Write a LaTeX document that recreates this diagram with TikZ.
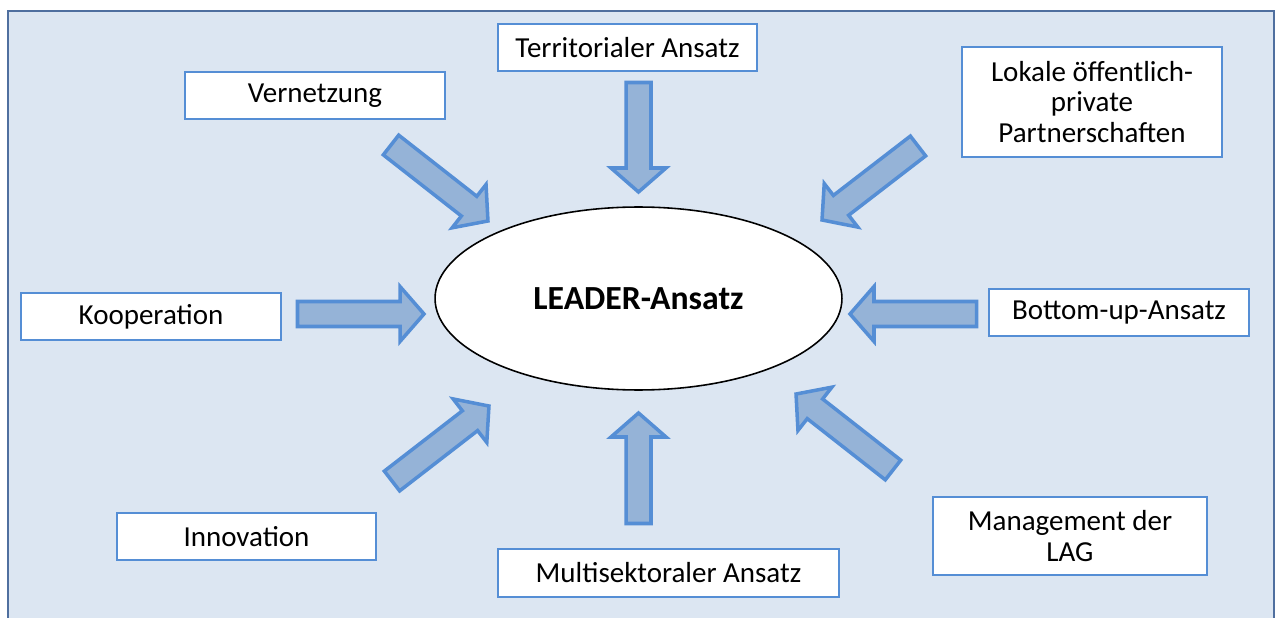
\documentclass[tikz,border=0pt]{standalone}
\usepackage{fontspec}
\setmainfont{Carlito}
\usetikzlibrary{calc}
\usetikzlibrary{shapes.geometric}

\definecolor{bgblue}{HTML}{DCE6F2}
\definecolor{bgline}{HTML}{4F6F9F}
\definecolor{boxline}{HTML}{558ED5}
\definecolor{arrfill}{HTML}{95B3D7}
\definecolor{arrline}{HTML}{558ED5}

\newcommand{\fatarrow}[2]{%
\draw[fatarrow] let \p1=($(#2)-(#1)$), \n1={atan2(\y1,\x1)}, \n2={veclen(\x1,\y1)} in
  [shift={(#1)},rotate=\n1]
  (0cm,0.25cm) -- ({\n2-0.48cm},0.25cm) -- ({\n2-0.48cm},0.55cm) -- ({\n2+0cm},0cm)
  -- ({\n2-0.48cm},-0.55cm) -- ({\n2-0.48cm},-0.25cm) -- (0cm,-0.25cm) -- cycle;}

\begin{document}
\begin{tikzpicture}[x=0.02cm,y=-0.02cm,
  box/.style={draw=boxline,fill=white,line width=0.8pt,minimum width=5.2cm,minimum height=0.94cm,inner sep=0pt,align=center,font=\fontsize{16.5}{17.4}\selectfont},
  fatarrow/.style={draw=arrline,fill=arrfill,line width=2pt,line join=miter}]
\useasboundingbox (0,0) rectangle (1275,618);
\clip (0,0) rectangle (1275,618);
\draw[draw=bgline,fill=bgblue,line width=0.8pt] (8,11) rectangle (1274,660);

\node[ellipse,draw,fill=white,line width=0.9pt,minimum width=8.14cm,minimum height=3.66cm,inner sep=0pt,font=\fontsize{19.2}{22}\selectfont\bfseries] (leader) at (638.5,298.5) {LEADER-Ansatz\hspace{0.3cm}};

\node[box,minimum width=5.18cm] (terr) at (627.5,47.5) {Territorialer Ansatz};
\node[box] (vern) at (315,95.5) {Vernetzung};
\node[box,minimum height=2.2cm] (lok) at (1092,102) {Lokale öffentlich-\\private\\Partnerschaften};
\node[box] (koop) at (151,316.5) {Kooperation};
\node[box] (bott) at (1119,312.5) {Bottom-up-Ansatz};
\node[box,minimum width=5.18cm] (inno) at (246.5,536.5) {Innovation};
\node[box,minimum width=6.82cm,minimum height=0.96cm] (multi) at (668.5,573) {Multisektoraler Ansatz};
\node[box,minimum width=5.48cm,minimum height=1.56cm] (mgmt) at (1070,536) {Management der\\LAG};

% arrows: tail and tip
\coordinate (terr-t) at (638.5,82.5);
\coordinate (terr-h) at (638.5,192);
\coordinate (vern-t) at (391,145);
\coordinate (vern-h) at (488,221);
\coordinate (lok-t) at (918,146);
\coordinate (lok-h) at (822,220);
\coordinate (koop-t) at (297.5,314);
\coordinate (koop-h) at (424,314);
\coordinate (bott-t) at (976.5,314);
\coordinate (bott-h) at (850,314);
\coordinate (inno-t) at (392,481);
\coordinate (inno-h) at (489,406);
\coordinate (multi-t) at (638.5,523.5);
\coordinate (multi-h) at (638.5,413);
\coordinate (mgmt-t) at (893,470);
\coordinate (mgmt-h) at (796,394);

\fatarrow{terr-t}{terr-h}
\fatarrow{vern-t}{vern-h}
\fatarrow{lok-t}{lok-h}
\fatarrow{koop-t}{koop-h}
\fatarrow{bott-t}{bott-h}
\fatarrow{inno-t}{inno-h}
\fatarrow{multi-t}{multi-h}
\fatarrow{mgmt-t}{mgmt-h}

\end{tikzpicture}
\end{document}
